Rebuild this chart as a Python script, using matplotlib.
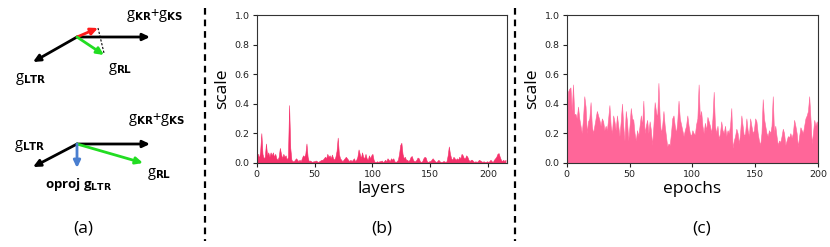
"""Figure: gradient projection diagram (a), per-layer scale (b), per-epoch scale (c)."""
import numpy as np
import matplotlib
matplotlib.use("Agg")
import matplotlib.pyplot as plt

# (b) scale per layer, layers 0..215
layer_scale = [
    0.05, 0.06, 0.03, 0.08, 0.20, 0.06, 0.03, 0.04, 0.13, 0.05, 0.07, 0.04,
    0.07, 0.05, 0.07, 0.04, 0.06, 0.03, 0.02, 0.04, 0.10, 0.06, 0.03, 0.06,
    0.04, 0.05, 0.02, 0.04, 0.39, 0.10, 0.02, 0.01, 0.01, 0.02, 0.03, 0.02,
    0.01, 0.02, 0.01, 0.03, 0.05, 0.04, 0.06, 0.13, 0.04, 0.01, 0.015, 0.01,
    0.005, 0.01, 0.01, 0.015, 0.01, 0.005, 0.01, 0.015, 0.02, 0.02, 0.03, 0.04,
    0.03, 0.06, 0.04, 0.05, 0.03, 0.055, 0.03, 0.02, 0.04, 0.08, 0.17, 0.06,
    0.03, 0.02, 0.01, 0.02, 0.03, 0.04, 0.03, 0.02, 0.01, 0.02, 0.01, 0.02,
    0.03, 0.01, 0.02, 0.04, 0.09, 0.06, 0.03, 0.07, 0.04, 0.03, 0.06, 0.03,
    0.02, 0.05, 0.03, 0.05, 0.06, 0.02, 0.005, 0.005, 0.01, 0.005, 0.01, 0.01,
    0.015, 0.005, 0.01, 0.02, 0.01, 0.03, 0.02, 0.01, 0.03, 0.02, 0.03, 0.01,
    0.005, 0.01, 0.02, 0.06, 0.12, 0.135, 0.06, 0.03, 0.04, 0.02, 0.02, 0.01,
    0.02, 0.04, 0.045, 0.02, 0.01, 0.01, 0.02, 0.035, 0.03, 0.01, 0.005, 0.01,
    0.03, 0.04, 0.035, 0.01, 0.005, 0.01, 0.01, 0.02, 0.03, 0.02, 0.01, 0.005,
    0.01, 0.02, 0.01, 0.005, 0.005, 0.01, 0.01, 0.005, 0.01, 0.05, 0.11, 0.06,
    0.03, 0.02, 0.04, 0.03, 0.02, 0.03, 0.02, 0.04, 0.03, 0.06, 0.05, 0.03,
    0.03, 0.05, 0.04, 0.02, 0.01, 0.02, 0.02, 0.01, 0.005, 0.01, 0.005, 0.01,
    0.02, 0.015, 0.01, 0.005, 0.01, 0.005, 0.005, 0.01, 0.005, 0.01, 0.02, 0.01,
    0.005, 0.02, 0.03, 0.04, 0.06, 0.065, 0.04, 0.02, 0.01, 0.02, 0.01, 0.02,
]

# (c) scale per epoch, epochs 0..200
epoch_scale = [
    0.30, 0.48, 0.50, 0.51, 0.35, 0.53, 0.33, 0.33, 0.30, 0.38, 0.30, 0.25,
    0.20, 0.30, 0.45, 0.38, 0.20, 0.28, 0.30, 0.41, 0.25, 0.20, 0.25, 0.30,
    0.35, 0.32, 0.29, 0.25, 0.30, 0.28, 0.22, 0.25, 0.22, 0.30, 0.39, 0.25,
    0.20, 0.32, 0.28, 0.22, 0.32, 0.25, 0.18, 0.28, 0.40, 0.25, 0.15, 0.35,
    0.28, 0.15, 0.25, 0.37, 0.30, 0.29, 0.20, 0.15, 0.22, 0.18, 0.25, 0.32,
    0.25, 0.42, 0.20, 0.25, 0.29, 0.20, 0.28, 0.22, 0.12, 0.25, 0.41, 0.35,
    0.30, 0.54, 0.30, 0.20, 0.25, 0.35, 0.25, 0.18, 0.11, 0.13, 0.12, 0.20,
    0.30, 0.32, 0.25, 0.20, 0.28, 0.42, 0.30, 0.26, 0.22, 0.18, 0.22, 0.25,
    0.32, 0.25, 0.20, 0.18, 0.22, 0.20, 0.19, 0.26, 0.30, 0.53, 0.30, 0.35,
    0.25, 0.20, 0.27, 0.22, 0.31, 0.28, 0.25, 0.20, 0.30, 0.48, 0.25, 0.20,
    0.25, 0.16, 0.20, 0.28, 0.22, 0.20, 0.25, 0.18, 0.22, 0.20, 0.25, 0.37,
    0.10, 0.15, 0.18, 0.23, 0.20, 0.13, 0.20, 0.32, 0.25, 0.18, 0.20, 0.30,
    0.22, 0.18, 0.30, 0.25, 0.20, 0.22, 0.30, 0.28, 0.20, 0.15, 0.12, 0.20,
    0.43, 0.30, 0.25, 0.20, 0.18, 0.22, 0.20, 0.25, 0.45, 0.20, 0.25, 0.18,
    0.12, 0.15, 0.14, 0.18, 0.23, 0.20, 0.12, 0.15, 0.18, 0.17, 0.20, 0.17,
    0.20, 0.29, 0.25, 0.20, 0.11, 0.18, 0.24, 0.22, 0.20, 0.25, 0.30, 0.32,
    0.35, 0.45, 0.30, 0.13, 0.20, 0.29, 0.25, 0.28, 0.24,
]

y_ticks = [0.0, 0.2, 0.4, 0.6, 0.8, 1.0]
x_ticks = [0, 50, 100, 150, 200]

# (a) diagram vectors, in figure pixels (origin, tip)
top_origin = (77, 37)
top_vectors = {
    "sum": ((150, 37), "black"),
    "ltr": ((33, 62), "black"),
    "red": ((98, 28), "#ff1a1a"),
    "rl": ((104, 55), "#22dd22"),
}
bot_origin = (77, 144)
bot_vectors = {
    "sum": ((150, 144), "black"),
    "ltr": ((33, 167), "black"),
    "rl": ((143, 163), "#22dd22"),
    "proj": ((77, 168), "#4a7fd0"),
}

W, H = 830, 247
LABEL_FONT = "Open Sans"

fig = plt.figure(figsize=(W / 100, H / 100), dpi=100)

# overlay in pixel coordinates for the diagram and separators
ov = fig.add_axes([0, 0, 1, 1], zorder=0)
ov.set_xlim(0, W)
ov.set_ylim(H, 0)
ov.axis("off")


def arrow(ax, start, end, color):
    ax.annotate("", xy=end, xytext=start,
                arrowprops=dict(arrowstyle="-|>,head_length=0.42,head_width=0.2",
                                color=color, lw=2.0, shrinkA=0, shrinkB=0))


for tip, col in top_vectors.values():
    arrow(ov, top_origin, tip, col)
for tip, col in bot_vectors.values():
    arrow(ov, bot_origin, tip, col)
ov.plot([top_vectors["red"][0][0], top_vectors["rl"][0][0]],
        [top_vectors["red"][0][1], top_vectors["rl"][0][1] - 2],
        color="black", lw=0.8, ls=(0, (2, 1.5)))

gtxt = dict(fontsize=10.5, family=LABEL_FONT, color="black")
ov.text(155, 15, r"g$_{\mathbf{KR}}$+g$_{\mathbf{KS}}$", ha="center", va="center", **gtxt)
ov.text(120, 69, r"g$_{\mathbf{RL}}$", ha="center", va="center", **gtxt)
ov.text(31, 79, r"g$_{\mathbf{LTR}}$", ha="center", va="center", **gtxt)
ov.text(157, 119, r"g$_{\mathbf{KR}}$+g$_{\mathbf{KS}}$", ha="center", va="center", **gtxt)
ov.text(30, 146, r"g$_{\mathbf{LTR}}$", ha="center", va="center", **gtxt)
ov.text(159, 174, r"g$_{\mathbf{RL}}$", ha="center", va="center", **gtxt)
ov.text(79, 184, r"oproj g$_{\mathbf{LTR}}$", ha="center", va="center",
        fontsize=9.5, family=LABEL_FONT, fontweight="bold")

for xs in (205, 515):
    ov.plot([xs, xs], [8, 241], color="black", lw=1.6, ls=(0, (3, 2.2)))

for txt, xc in (("(a)", 83), ("(b)", 382), ("(c)", 702)):
    ov.text(xc, 228, txt, ha="center", va="center", fontsize=12.5, family=LABEL_FONT)

panels = [
    ([256.7, 506.7], layer_scale, "layers", "#f5306a", 216),
    ([566.7, 818.0], epoch_scale, "epochs", "#ff6699", 200),
]
top_px, bot_px = 15, 162.7
for (x0, x1), vals, xlab, col, xmax in panels:
    ax = fig.add_axes([x0 / W, 1 - bot_px / H, (x1 - x0) / W, (bot_px - top_px) / H], zorder=1)
    x = np.arange(len(vals))
    ax.fill_between(x, 0, vals, color=col, linewidth=0.4, edgecolor=col)
    ax.set_xlim(0, xmax)
    ax.set_ylim(0, 1.0)
    ax.set_yticks(y_ticks)
    ax.set_yticklabels([f"{v:.1f}" for v in y_ticks])
    ax.set_xticks(x_ticks)
    ax.tick_params(labelsize=6.8, colors="#222222", length=3, width=0.8, pad=2)
    for s in ax.spines.values():
        s.set_color("#333333")
        s.set_linewidth(0.8)
    ax.set_xlabel(xlab, fontsize=12.5, family=LABEL_FONT, labelpad=2)
    ax.set_ylabel("scale", fontsize=12.5, family=LABEL_FONT, labelpad=3)

fig.savefig("out.png", dpi=100)
